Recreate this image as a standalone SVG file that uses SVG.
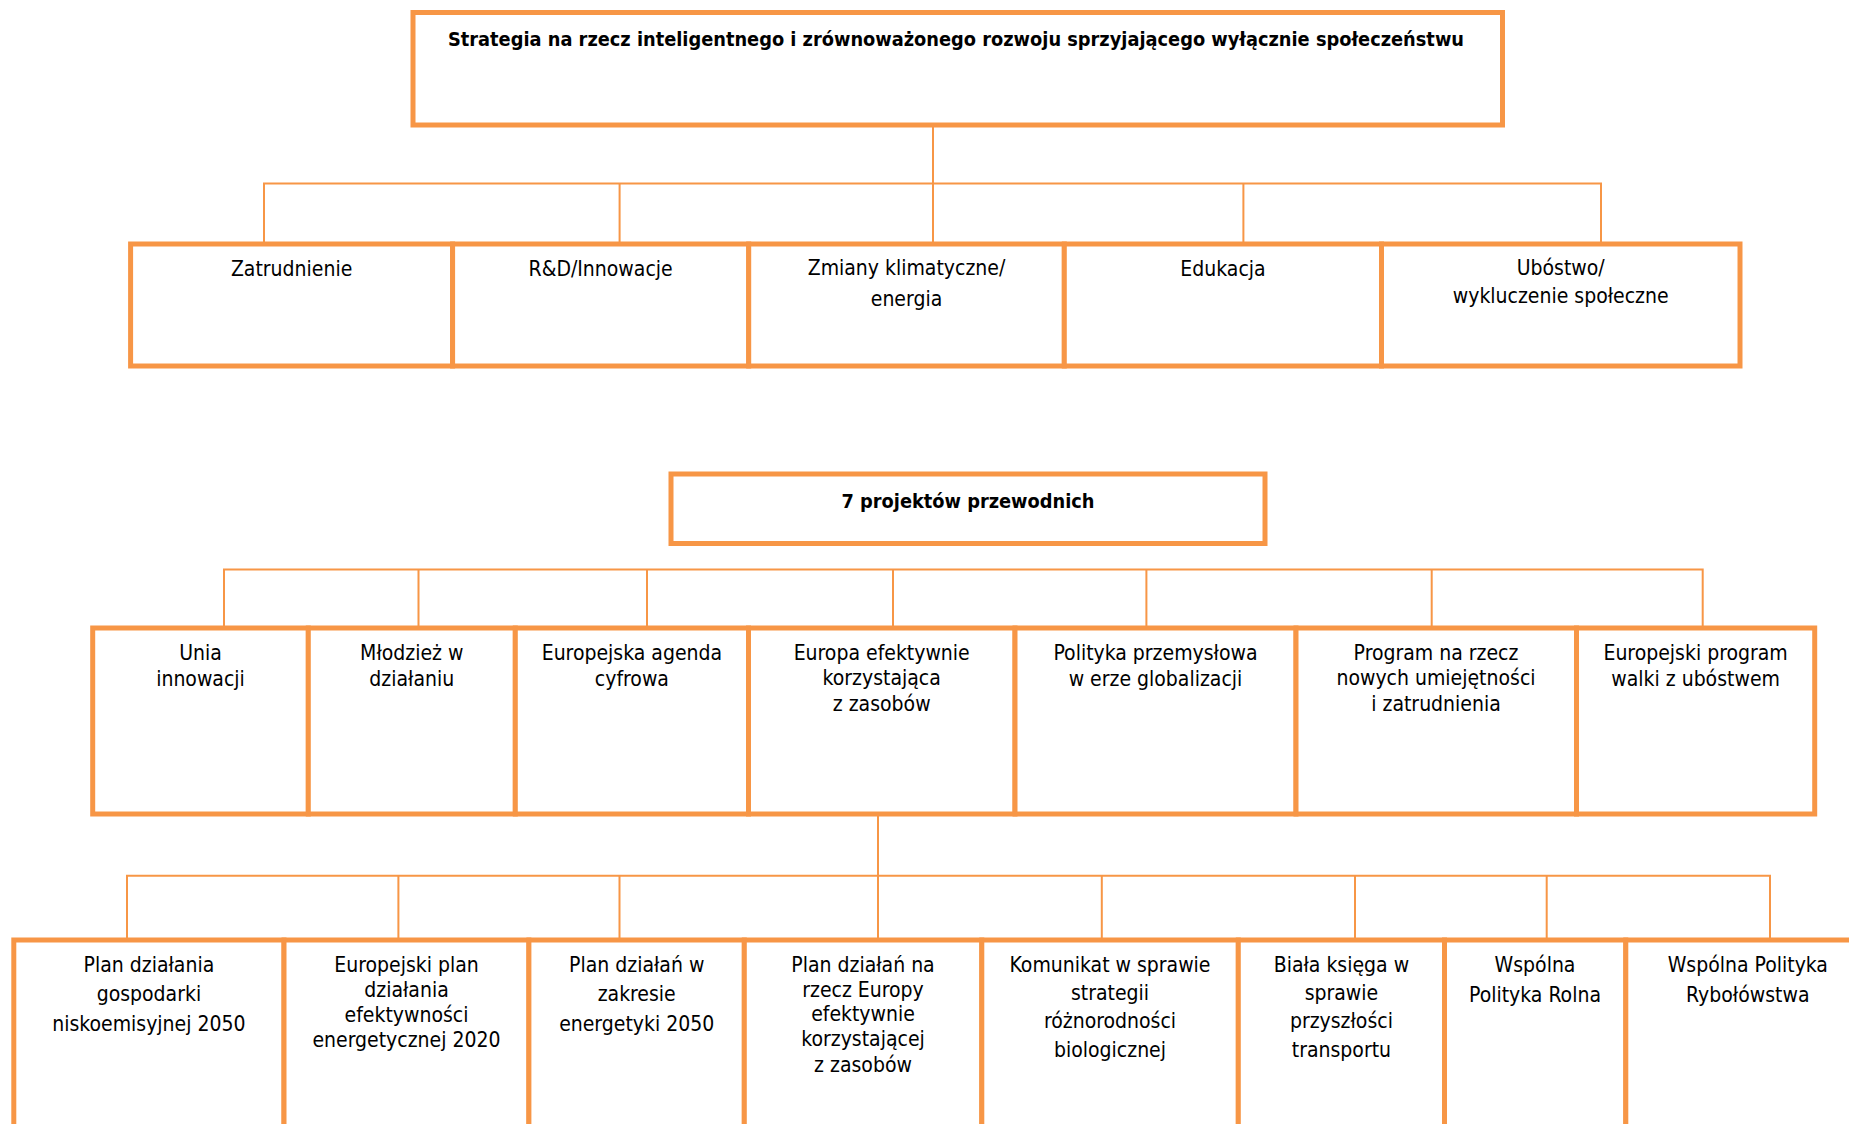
<svg xmlns="http://www.w3.org/2000/svg" width="1849" height="1124" viewBox="0 0 1849 1124">
<style>
.box{fill:#fff;stroke:#F79646;stroke-width:5}
.ln{fill:none;stroke:#F79646;stroke-width:2}
.t{font-family:"DejaVu Sans Condensed","DejaVu Sans",sans-serif;font-stretch:condensed;font-size:21px;fill:#000;text-anchor:middle}
.b{font-weight:bold;font-size:19.8px}
</style>
<rect width="1849" height="1124" fill="#fff"/>
<g id="connectors">
<path class="ln" d="M933 125V183.5M264 244V183.5H1601V244M619.6 183.5V244M933 183.5V244M1243.4 183.5V244"/>
<path class="ln" d="M224 628V569.5H1702.7V628M418.5 569.5V628M647 569.5V628M893 569.5V628M1146.4 569.5V628M1431.7 569.5V628"/>
<path class="ln" d="M878 814V875.7M127 940V875.7H1770V940M398.4 875.7V940M619.5 875.7V940M878 875.7V940M1101.8 875.7V940M1355 875.7V940M1546.7 875.7V940"/>
</g>
<g id="strategia"><rect class="box" x="413" y="12.5" width="1089.5" height="112.5"/><text class="t b" x="956" y="46">Strategia na rzecz inteligentnego i zrównoważonego rozwoju sprzyjającego wyłącznie społeczeństwu</text></g>
<g id="zatrudnienie"><rect class="box" x="130.6" y="244" width="322" height="122"/><text class="t" x="291.6" y="276">Zatrudnienie</text></g>
<g id="rd"><rect class="box" x="452.6" y="244" width="296.1" height="122"/><text class="t" x="600.6" y="276">R&amp;D/Innowacje</text></g>
<g id="klimat"><rect class="box" x="748.7" y="244" width="315.6" height="122"/><text class="t" x="906.5" y="275"><tspan x="906.5" y="275">Zmiany klimatyczne/</tspan><tspan x="906.5" y="305.5">energia</tspan></text></g>
<g id="edukacja"><rect class="box" x="1064.3" y="244" width="317.2" height="122"/><text class="t" x="1223" y="276">Edukacja</text></g>
<g id="ubostwo"><rect class="box" x="1381.5" y="244" width="358.5" height="122"/><text class="t" x="1560.7" y="275"><tspan x="1560.7" y="275">Ubóstwo/</tspan><tspan x="1560.7" y="302.5">wykluczenie społeczne</tspan></text></g>
<g id="projekty"><rect class="box" x="671" y="474" width="594" height="69.5"/><text class="t b" x="968" y="508">7 projektów przewodnich</text></g>
<g id="unia"><rect class="box" x="92.7" y="628" width="215.6" height="186"/><text class="t"><tspan x="200.5" y="659.5">Unia</tspan><tspan x="200.5" y="685.5">innowacji</tspan></text></g>
<g id="mlodziez"><rect class="box" x="308.3" y="628" width="207" height="186"/><text class="t"><tspan x="411.8" y="659.5">Młodzież w</tspan><tspan x="411.8" y="685.5">działaniu</tspan></text></g>
<g id="agenda"><rect class="box" x="515.3" y="628" width="233.2" height="186"/><text class="t"><tspan x="631.9" y="659.5">Europejska agenda</tspan><tspan x="631.9" y="685.5">cyfrowa</tspan></text></g>
<g id="europa"><rect class="box" x="748.5" y="628" width="266.5" height="186"/><text class="t"><tspan x="881.7" y="659.5">Europa efektywnie</tspan><tspan x="881.7" y="685">korzystająca</tspan><tspan x="881.7" y="710.5">z zasobów</tspan></text></g>
<g id="polityka"><rect class="box" x="1015" y="628" width="281" height="186"/><text class="t"><tspan x="1155.5" y="659.5">Polityka przemysłowa</tspan><tspan x="1155.5" y="685.5">w erze globalizacji</tspan></text></g>
<g id="program"><rect class="box" x="1296" y="628" width="280.5" height="186"/><text class="t"><tspan x="1436" y="659.5">Program na rzecz</tspan><tspan x="1436" y="685">nowych umiejętności</tspan><tspan x="1436" y="710.5">i zatrudnienia</tspan></text></g>
<g id="ubostwo2"><rect class="box" x="1576.5" y="628" width="238.2" height="186"/><text class="t"><tspan x="1695.6" y="659.5">Europejski program</tspan><tspan x="1695.6" y="685.5">walki z ubóstwem</tspan></text></g>
<g id="plan1"><rect class="box" x="13.8" y="940" width="270.2" height="300"/><text class="t"><tspan x="148.9" y="971.7">Plan działania</tspan><tspan x="148.9" y="1001">gospodarki</tspan><tspan x="148.9" y="1030.7">niskoemisyjnej 2050</tspan></text></g>
<g id="plan2"><rect class="box" x="284" y="940" width="244.9" height="300"/><text class="t"><tspan x="406.5" y="971.7">Europejski plan</tspan><tspan x="406.5" y="996.7">działania</tspan><tspan x="406.5" y="1021.7">efektywności</tspan><tspan x="406.5" y="1047">energetycznej 2020</tspan></text></g>
<g id="plan3"><rect class="box" x="528.9" y="940" width="215.4" height="300"/><text class="t"><tspan x="636.7" y="971.7">Plan działań w</tspan><tspan x="636.7" y="1001">zakresie</tspan><tspan x="636.7" y="1030.7">energetyki 2050</tspan></text></g>
<g id="plan4"><rect class="box" x="744.3" y="940" width="237.5" height="300"/><text class="t"><tspan x="863" y="971.7">Plan działań na</tspan><tspan x="863" y="996.7">rzecz Europy</tspan><tspan x="863" y="1021">efektywnie</tspan><tspan x="863" y="1045.5">korzystającej</tspan><tspan x="863" y="1071.5">z zasobów</tspan></text></g>
<g id="komunikat"><rect class="box" x="981.8" y="940" width="256.5" height="300"/><text class="t"><tspan x="1110" y="971.7">Komunikat w sprawie</tspan><tspan x="1110" y="1000">strategii</tspan><tspan x="1110" y="1028.3">różnorodności</tspan><tspan x="1110" y="1056.7">biologicznej</tspan></text></g>
<g id="biala"><rect class="box" x="1238.3" y="940" width="206.2" height="300"/><text class="t"><tspan x="1341.4" y="971.7">Biała księga w</tspan><tspan x="1341.4" y="1000">sprawie</tspan><tspan x="1341.4" y="1028.3">przyszłości</tspan><tspan x="1341.4" y="1056.7">transportu</tspan></text></g>
<g id="rolna"><rect class="box" x="1444.5" y="940" width="181.3" height="300"/><text class="t"><tspan x="1535" y="971.7">Wspólna</tspan><tspan x="1535" y="1001.7">Polityka Rolna</tspan></text></g>
<g id="rybolowstwa"><rect class="box" x="1625.8" y="940" width="244.2" height="300"/><text class="t"><tspan x="1747.8" y="971.7">Wspólna Polityka</tspan><tspan x="1747.8" y="1001.7">Rybołówstwa</tspan></text></g>
</svg>
